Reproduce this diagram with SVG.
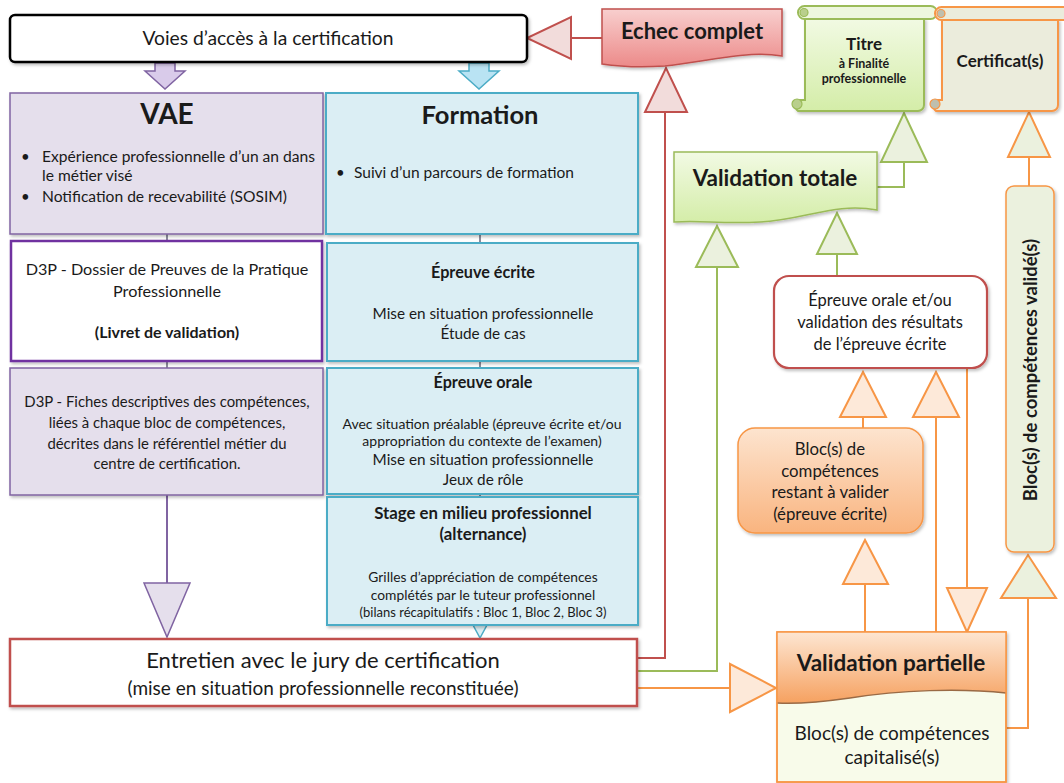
<svg xmlns="http://www.w3.org/2000/svg" width="1064" height="783" viewBox="0 0 1064 783">
<defs>
<filter id="sh" x="-10%" y="-10%" width="130%" height="130%"><feDropShadow dx="1.5" dy="2" stdDeviation="1.5" flood-color="#000" flood-opacity="0.25"/></filter>
<linearGradient id="gRed" x1="0" y1="0" x2="0" y2="1"><stop offset="0" stop-color="#f8cfce"/><stop offset="1" stop-color="#ec8a89"/></linearGradient>
<linearGradient id="gGreen" x1="0" y1="0" x2="0" y2="1"><stop offset="0" stop-color="#f2fae4"/><stop offset="1" stop-color="#d4eda8"/></linearGradient>
<linearGradient id="gOrange" x1="0" y1="0" x2="0" y2="1"><stop offset="0" stop-color="#fde4cf"/><stop offset="1" stop-color="#f9b47f"/></linearGradient>
<linearGradient id="gOrangeH" x1="0" y1="0" x2="0" y2="1"><stop offset="0" stop-color="#fde6d2"/><stop offset="1" stop-color="#f6a160"/></linearGradient>
</defs>
<style>
text{font-family:Lato,"Liberation Sans",sans-serif;fill:#1a1a1a;text-anchor:middle}
.b{font-weight:bold}
.st{text-anchor:start}
.conn line,.conn polyline{fill:none;stroke-width:2}
.red{stroke:#c0504d}
.grn{stroke:#9bbb59}
.org{stroke:#f79646}
.triR{fill:#f2dcdb;stroke:#c0504d;stroke-width:2}
.triG{fill:#ebf1de;stroke:#9bbb59;stroke-width:2}
.triO{fill:#fde9d9;stroke:#f79646;stroke-width:2}
.triOG{fill:#ebf1de;stroke:#f79646;stroke-width:2}
.vae{fill:#e5dfec;stroke:#8064a2;stroke-width:1.5}
.frm{fill:#dbeef4;stroke:#4bacc6;stroke-width:2}
.thin{stroke:#8c8c9c;stroke-width:1.5}
</style>

<g id="connectors" class="conn">
  <line class="thin" x1="167" y1="234" x2="167" y2="241"/>
  <line class="thin" x1="167" y1="361" x2="167" y2="368"/>
  <line class="thin" x1="480" y1="234" x2="480" y2="243"/>
  <line class="thin" x1="480" y1="361" x2="480" y2="368"/>
  <line class="thin" x1="480" y1="494" x2="480" y2="497"/>
  <polygon points="155,63 175,63 175,71 185,71 165,89 145,71 155,71" fill="#d9cbea" stroke="#8064a2" stroke-width="1.5"/>
  <polygon points="469,63 489,63 489,71 499,71 479,89 459,71 469,71" fill="#b9e3f3" stroke="#4bacc6" stroke-width="1.5"/>
  <line x1="167" y1="495" x2="167" y2="583" stroke="#8064a2" stroke-width="2"/>
  <polygon points="144,583 190,583 167,637" fill="#e5dfec" stroke="#8064a2" stroke-width="1.5"/>
  <polygon points="473,625 487,625 480,638" fill="#dbeef4" stroke="#4bacc6" stroke-width="1.5"/>
  <polyline class="red" points="637,658 665,658 665,112"/>
  <polygon class="triR" points="645,112 687,112 666,68"/>
  <line class="red" x1="571" y1="38" x2="602" y2="38"/>
  <polygon class="triR" points="571,17 571,59 527,38"/>
  <polyline class="grn" points="637,671 717,671 717,267"/>
  <polygon class="triG" points="696,267 738,267 717,226"/>
  <line class="grn" x1="837" y1="254" x2="837" y2="276"/>
  <polygon class="triG" points="817,254 857,254 837,213"/>
  <polyline class="grn" points="877,187 904,187 904,162"/>
  <polygon class="triG" points="881,162 927,162 904,113"/>
  <line class="org" x1="637" y1="688" x2="730" y2="688"/>
  <polygon class="triO" points="730,664 730,712 776,688"/>
  <line class="org" x1="863" y1="417" x2="863" y2="428"/>
  <polygon class="triO" points="840,417 886,417 863,372"/>
  <line class="org" x1="936" y1="417" x2="936" y2="632"/>
  <polygon class="triO" points="913,417 959,417 936,372"/>
  <line class="org" x1="967" y1="368" x2="967" y2="588"/>
  <polygon class="triO" points="947,588 987,588 967,632"/>
  <line class="org" x1="865" y1="584" x2="865" y2="632"/>
  <polygon class="triO" points="843,584 888,584 865,540"/>
  <polyline class="org" points="1006,728 1028,728 1028,598"/>
  <polygon class="triOG" points="1001,598 1056,598 1028,555"/>
  <line class="org" x1="1029" y1="157" x2="1029" y2="186"/>
  <polygon class="triOG" points="1008,157 1050,157 1029,112"/>
</g>

<g id="voies">
  <rect x="10" y="15" width="517" height="47" rx="5" fill="#fff" stroke="#000" stroke-width="2.5" filter="url(#sh)"/>
  <text x="268" y="45" font-size="19.3">Voies d’accès à la certification</text>
</g>

<g id="vae">
  <rect class="vae" x="10" y="93" width="313" height="141" filter="url(#sh)"/>
  <text class="b" x="167" y="124" font-size="28">VAE</text>
  <text class="st" x="21" y="162" font-size="15">•</text>
  <text class="st" x="42" y="162" font-size="15.6">Expérience professionnelle d’un an dans</text>
  <text class="st" x="42" y="181" font-size="15.6">le métier visé</text>
  <text class="st" x="21" y="202" font-size="15">•</text>
  <text class="st" x="42" y="202" font-size="15.6">Notification de recevabilité (SOSIM)</text>
</g>

<g id="d3p-dossier">
  <rect x="11" y="241" width="311" height="120" fill="#fff" stroke="#7030a0" stroke-width="2.5" filter="url(#sh)"/>
  <text x="167" y="275" font-size="16.2">D3P - Dossier de Preuves de la Pratique</text>
  <text x="167" y="297" font-size="16.2">Professionnelle</text>
  <text class="b" x="167" y="338" font-size="16">(Livret de validation)</text>
</g>

<g id="d3p-fiches">
  <rect class="vae" x="10" y="368" width="313" height="127" filter="url(#sh)"/>
  <text x="167" y="407" font-size="14.9">D3P - Fiches descriptives des compétences,</text>
  <text x="167" y="428" font-size="14.9">liées à chaque bloc de compétences,</text>
  <text x="167" y="449" font-size="14.9">décrites dans le référentiel métier du</text>
  <text x="167" y="469" font-size="14.9">centre de certification.</text>
</g>

<g id="formation">
  <rect class="frm" x="326" y="93" width="312" height="141" stroke-width="1.5" filter="url(#sh)"/>
  <text class="b" x="480" y="124" font-size="25.5">Formation</text>
  <text class="st" x="336" y="178" font-size="15">•</text>
  <text class="st" x="354" y="178" font-size="15.5">Suivi d’un parcours de formation</text>
</g>

<g id="epreuve-ecrite">
  <rect class="frm" x="327" y="243" width="311" height="118" filter="url(#sh)"/>
  <text class="b" x="483" y="278" font-size="16.2">Épreuve écrite</text>
  <text x="483" y="319" font-size="15.3">Mise en situation professionnelle</text>
  <text x="483" y="339" font-size="15.3">Étude de cas</text>
</g>

<g id="epreuve-orale">
  <rect class="frm" x="327" y="368" width="311" height="126" filter="url(#sh)"/>
  <text class="b" x="483" y="388" font-size="16.2">Épreuve orale</text>
  <text x="482" y="429" font-size="14">Avec situation préalable (épreuve écrite et/ou</text>
  <text x="482" y="446" font-size="14">appropriation du contexte de l’examen)</text>
  <text x="483" y="465" font-size="15.3">Mise en situation professionnelle</text>
  <text x="483" y="485" font-size="15.3">Jeux de rôle</text>
</g>

<g id="stage">
  <rect class="frm" x="327" y="497" width="311" height="128" filter="url(#sh)"/>
  <text class="b" x="483" y="519" font-size="16.8">Stage en milieu professionnel</text>
  <text class="b" x="483" y="540" font-size="16.8">(alternance)</text>
  <text x="483" y="582" font-size="13.8">Grilles d’appréciation de compétences</text>
  <text x="483" y="600" font-size="13.8">complétés par le tuteur professionnel</text>
  <text x="483" y="617" font-size="13">(bilans récapitulatifs : Bloc 1, Bloc 2, Bloc 3)</text>
</g>

<g id="entretien">
  <rect x="10" y="639" width="627" height="67" fill="#fff" stroke="#c0504d" stroke-width="2.5" filter="url(#sh)"/>
  <text x="323" y="668" font-size="22">Entretien avec le jury de certification</text>
  <text x="323" y="695" font-size="19">(mise en situation professionnelle reconstituée)</text>
</g>

<g id="echec">
  <path d="M602,9 H782 V56 C745,50 705,62 665,66 C635,68 615,66 602,64 Z" fill="url(#gRed)" stroke="#c0504d" stroke-width="1.5" filter="url(#sh)"/>
  <text class="b" x="692" y="39" font-size="22">Echec complet</text>
</g>

<g id="titre">
  <path d="M805,17 V100 H798 A7,7 0 0 0 798,111 H918 A6,6 0 0 0 924,105 V19 Z" fill="url(#gGreen)" stroke="#9bbb59" stroke-width="2" filter="url(#sh)"/>
  <rect x="798" y="6" width="139" height="13" rx="6.5" fill="#eef7de" stroke="#9bbb59" stroke-width="2"/>
  <circle cx="804" cy="12.5" r="4" fill="#b9cf8c" stroke="#9bbb59" stroke-width="1.2"/>
  <circle cx="797" cy="104" r="5" fill="#b9cf8c" stroke="#9bbb59" stroke-width="1.2"/>
  <text class="b" x="864" y="50" font-size="17">Titre</text>
  <text class="b" x="864" y="68" font-size="12.5">à Finalité</text>
  <text class="b" x="864" y="83" font-size="12.5">professionnelle</text>
</g>

<g id="certificat">
  <path d="M942,18 V100 H936 A7,7 0 0 0 936,111 H1052 A6,6 0 0 0 1058,105 V20 Z" fill="#ebecdc" stroke="#f79646" stroke-width="2" filter="url(#sh)"/>
  <rect x="935" y="7" width="140" height="13" rx="6.5" fill="#ebecdc" stroke="#f79646" stroke-width="2"/>
  <circle cx="941" cy="13.5" r="4" fill="#bfbfae" stroke="#f79646" stroke-width="1.2"/>
  <circle cx="935" cy="104" r="5" fill="#bfbfae" stroke="#f79646" stroke-width="1.2"/>
  <text class="b" x="1000" y="67" font-size="17">Certificat(s)</text>
</g>

<g id="validation-totale">
  <path d="M674,152 H877 V210 C835,202 805,220 760,222 C720,224 700,220 674,222 Z" fill="url(#gGreen)" stroke="#9bbb59" stroke-width="1.5" filter="url(#sh)"/>
  <text class="b" x="775" y="186" font-size="22.5">Validation totale</text>
</g>

<g id="epreuve-orale-validation">
  <rect x="774" y="276" width="213" height="92" rx="15" fill="#fff" stroke="#c0504d" stroke-width="2.2" filter="url(#sh)"/>
  <text x="880" y="306" font-size="16.5">Épreuve orale et/ou</text>
  <text x="880" y="328" font-size="16.5">validation des résultats</text>
  <text x="880" y="350" font-size="16.5">de l’épreuve écrite</text>
</g>

<g id="blocs-restant">
  <rect x="738" y="428" width="185" height="105" rx="17" fill="url(#gOrange)" stroke="#f79646" stroke-width="1.5" filter="url(#sh)"/>
  <text x="830" y="455" font-size="16.8">Bloc(s) de</text>
  <text x="830" y="477" font-size="16.8">compétences</text>
  <text x="830" y="498" font-size="16.8">restant à valider</text>
  <text x="830" y="520" font-size="16.8">(épreuve écrite)</text>
</g>

<g id="validation-partielle">
  <rect x="777" y="632" width="229" height="150" fill="#f8fbea" stroke="#f79646" stroke-width="1.5" filter="url(#sh)"/>
  <path d="M777,632 H1006 V693 C960,688 900,690 850,698 C815,703 795,704 777,703 Z" fill="url(#gOrangeH)" stroke="none"/>
  <path d="M1006,693 C960,688 900,690 850,698 C815,703 795,704 777,703" fill="none" stroke="#9a6a45" stroke-width="1.5"/>
  <rect x="777" y="632" width="229" height="150" fill="none" stroke="#f79646" stroke-width="1.5"/>
  <text class="b" x="891" y="671" font-size="22.5">Validation partielle</text>
  <text x="892" y="740" font-size="19">Bloc(s) de compétences</text>
  <text x="892" y="764" font-size="19">capitalisé(s)</text>
</g>

<g id="blocs-valides">
  <rect x="1006" y="186" width="48" height="366" rx="8" fill="#ebf1de" stroke="#f79646" stroke-width="1.5" filter="url(#sh)"/>
  <text class="b" x="0" y="0" font-size="18.5" transform="translate(1037,370) rotate(-90)">Bloc(s)  de compétences validé(s)</text>
</g>
</svg>
